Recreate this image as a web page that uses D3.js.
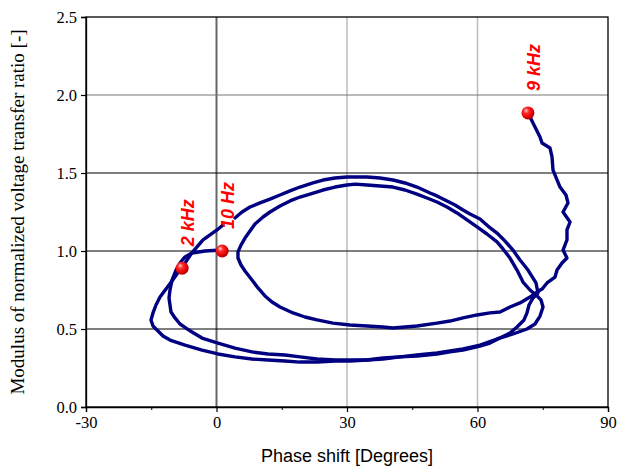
<!DOCTYPE html>
<html>
<head>
<meta charset="utf-8">
<script src="https://cdn.jsdelivr.net/npm/d3@7"></script>
<style>
    body { margin: 0; background: #fff; }
    svg { display: block; }
</style>
</head>
<body>
<svg id="chart" width="617" height="468"></svg>
<script>
// phase shift [deg], modulus [-]
var sweepA = [
    [1.26, 1.006], [-2.64, 1.000], [-5.63, 0.987], [-7.24, 0.962], [-8.39, 0.923], [-9.31, 0.878],
    [-10.23, 0.814], [-10.69, 0.750], [-10.92, 0.699], [-10.69, 0.654], [-10.46, 0.609], [-9.54, 0.571],
    [-8.39, 0.532], [-7.01, 0.506], [-5.63, 0.481], [-3.33, 0.442], [0.34, 0.410], [4.25, 0.378],
    [8.16, 0.353], [11.84, 0.340], [15.75, 0.333], [19.20, 0.321], [23.10, 0.308], [27.24, 0.301],
    [30.69, 0.301], [34.60, 0.301], [38.28, 0.314], [42.18, 0.321], [46.09, 0.327], [50.69, 0.340],
    [53.68, 0.353], [56.67, 0.365], [60.57, 0.391], [62.87, 0.410], [65.17, 0.442], [67.47, 0.474],
    [69.08, 0.513], [70.69, 0.558], [71.38, 0.603], [71.84, 0.654], [72.76, 0.699], [73.91, 0.731],
    [73.45, 0.795], [71.61, 0.878], [69.77, 0.942], [68.16, 1.006], [66.32, 1.064], [64.48, 1.115],
    [62.41, 1.160], [60.57, 1.205], [58.28, 1.237], [56.67, 1.263], [54.83, 1.295], [52.99, 1.321],
    [50.69, 1.353], [49.08, 1.372], [46.09, 1.410], [43.33, 1.436], [40.57, 1.455], [37.59, 1.468],
    [34.60, 1.474], [31.84, 1.474], [30.00, 1.474], [27.24, 1.468], [24.48, 1.455], [22.18, 1.436],
    [19.20, 1.410], [16.90, 1.385], [14.60, 1.359], [12.30, 1.333], [10.00, 1.308], [7.70, 1.282],
    [5.86, 1.250], [4.25, 1.212]
];

var sweepB = [
    [1.49, 1.167], [0.12, 1.135], [-1.49, 1.103], [-3.10, 1.071], [-4.48, 1.026], [-5.86, 0.981],
    [-6.78, 0.942], [-7.93, 0.891], [-9.08, 0.853], [-10.23, 0.808], [-11.61, 0.756], [-12.99, 0.705],
    [-13.91, 0.654], [-14.60, 0.603], [-15.06, 0.558], [-14.60, 0.519], [-13.45, 0.487], [-12.30, 0.455],
    [-10.69, 0.429], [-7.24, 0.397], [-3.33, 0.365], [0.34, 0.340], [4.25, 0.321], [8.16, 0.308],
    [11.84, 0.301], [15.75, 0.295], [19.20, 0.288], [23.10, 0.288], [27.24, 0.295], [30.69, 0.295],
    [34.60, 0.301], [38.28, 0.308], [42.18, 0.321], [46.09, 0.333], [50.69, 0.346], [53.68, 0.359],
    [56.67, 0.372], [60.57, 0.397], [64.48, 0.436], [68.16, 0.468], [71.38, 0.500], [73.22, 0.532],
    [74.37, 0.583], [75.06, 0.641], [74.60, 0.686], [73.68, 0.712],
    [72.07, 0.750], [70.46, 0.801], [69.08, 0.878], [67.47, 0.955], [65.86, 1.013], [64.48, 1.058],
    [62.18, 1.109], [59.89, 1.154], [57.59, 1.199], [55.29, 1.244], [52.99, 1.282], [50.69, 1.314],
    [48.39, 1.340], [46.09, 1.365], [43.33, 1.391], [40.57, 1.410], [37.59, 1.417], [34.60, 1.423],
    [31.84, 1.429], [30.00, 1.423], [27.24, 1.410], [24.48, 1.391], [21.49, 1.365], [19.20, 1.346],
    [16.90, 1.321], [14.60, 1.288], [12.30, 1.250], [10.69, 1.218], [8.85, 1.173], [7.70, 1.128],
    [6.55, 1.083], [5.63, 1.038], [4.94, 0.994], [4.94, 0.955], [5.63, 0.910], [6.55, 0.872],
    [8.16, 0.814], [9.54, 0.763], [11.15, 0.712], [12.76, 0.673], [14.60, 0.641], [17.59, 0.603],
    [20.34, 0.577], [23.10, 0.558], [26.78, 0.538], [30.69, 0.526], [34.60, 0.519], [38.28, 0.513],
    [40.57, 0.506], [43.33, 0.513], [46.09, 0.519], [50.69, 0.538], [53.68, 0.551], [56.67, 0.571],
    [59.89, 0.590], [62.87, 0.603], [65.17, 0.609], [67.47, 0.641], [69.77, 0.667], [72.07, 0.705],
    [73.68, 0.737],
    [74.83, 0.756], [75.98, 0.795], [77.82, 0.833], [78.28, 0.878], [79.43, 0.923], [80.57, 0.955],
    [79.66, 1.006], [80.57, 1.071], [80.57, 1.135], [81.27, 1.186], [79.66, 1.250], [80.80, 1.308],
    [80.34, 1.359], [78.97, 1.410], [77.36, 1.519], [77.13, 1.603], [76.67, 1.660], [74.83, 1.692],
    [74.37, 1.731], [72.76, 1.821], [71.61, 1.885]
];

var markerLabels = ["10 Hz", "2 kHz", "9 kHz"];
var markerPhase = [1.3, -7.9, 71.6];
var markerModulus = [1.0, 0.89, 1.885];

var xTicks = [-30, 0, 30, 60, 90];
var xMinorTicks = [-15, 15, 45, 75];
var yTicks = [0, 0.5, 1.0, 1.5, 2.0, 2.5];

var margin = {top: 17, right: 9, bottom: 61, left: 86},
    width = 617 - margin.left - margin.right,
    height = 468 - margin.top - margin.bottom;

var svg = d3.select("#chart");

var defs = svg.append("defs");
var grad = defs.append("radialGradient")
    .attr("id", "ball")
    .attr("cx", "40%").attr("cy", "40%").attr("r", "60%")
    .attr("fx", "35%").attr("fy", "30%");
grad.append("stop").attr("offset", "0%").attr("stop-color", "#ffd0d0");
grad.append("stop").attr("offset", "35%").attr("stop-color", "#ff2a2a");
grad.append("stop").attr("offset", "80%").attr("stop-color", "#e00000");
grad.append("stop").attr("offset", "100%").attr("stop-color", "#b00000");

var g = svg.append("g")
    .attr("transform", "translate(" + margin.left + "," + margin.top + ")");

var x = d3.scaleLinear().domain([-30, 90]).range([0, width]);
var y = d3.scaleLinear().domain([0, 2.5]).range([height, 0]);

// grid
g.selectAll(".vgrid")
    .data([0, 30, 60])
    .enter().append("line")
    .attr("x1", d => x(d)).attr("x2", d => x(d))
    .attr("y1", 0).attr("y2", height)
    .attr("stroke", d => d === 0 ? "#666" : "#bbb")
    .attr("stroke-width", d => d === 0 ? 2 : 1.5);

g.selectAll(".hgrid")
    .data([0.5, 1.0, 1.5, 2.0])
    .enter().append("line")
    .attr("x1", 0).attr("x2", width)
    .attr("y1", d => y(d)).attr("y2", d => y(d))
    .attr("stroke", d => d === 2.0 ? "#777" : "#000")
    .attr("stroke-width", 1.1);

// frame
g.append("rect")
    .attr("width", width).attr("height", height)
    .attr("fill", "none").attr("stroke", "#000").attr("stroke-width", 1.3);

var xAxis = g.append("g")
    .attr("transform", "translate(0," + height + ")")
    .call(d3.axisBottom(x).tickValues(xTicks).tickSize(5).tickPadding(4).tickFormat(d => String(d)));
g.append("g")
    .attr("transform", "translate(0," + height + ")")
    .call(d3.axisBottom(x).tickValues(xMinorTicks).tickSize(3).tickFormat(""))
    .select(".domain").remove();

var yAxis = g.append("g")
    .call(d3.axisLeft(y).tickValues(yTicks).tickSize(5).tickPadding(4).tickFormat(d3.format(".1f")));

[xAxis, yAxis].forEach(function(a) {
    a.select(".domain").attr("stroke-width", 1.3);
    a.selectAll(".tick line").attr("stroke-width", 1.2);
    a.selectAll("text")
        .attr("font-family", "'Liberation Serif', serif")
        .attr("font-size", 16.5)
        .attr("fill", "#000");
});

// curves
var line = d3.line()
    .x(d => x(d[0]))
    .y(d => y(d[1]));

g.selectAll(".sweep")
    .data([sweepA, sweepB])
    .enter().append("path")
    .attr("d", line)
    .attr("fill", "none")
    .attr("stroke", "#000080")
    .attr("stroke-width", 3.4)
    .attr("stroke-linejoin", "round")
    .attr("stroke-linecap", "round");

// frequency markers
var markers = markerLabels.map(function(l, i) {
    return {label: l, phase: markerPhase[i], modulus: markerModulus[i]};
});

g.selectAll(".ball")
    .data(markers)
    .enter().append("circle")
    .attr("cx", d => x(d.phase))
    .attr("cy", d => y(d.modulus))
    .attr("r", 6.5)
    .attr("fill", "url(#ball)");

g.selectAll(".mlabel")
    .data(markers)
    .enter().append("text")
    .attr("transform", d => "translate(" + (x(d.phase) + 12) + "," + (y(d.modulus) - 22) + ") rotate(-90)")
    .attr("font-family", "'Liberation Sans', Arial, sans-serif")
    .attr("font-size", 18)
    .attr("font-weight", "bold")
    .attr("font-style", "italic")
    .attr("fill", "#ff0000")
    .text(d => d.label);

// axis titles
svg.append("text")
    .attr("x", margin.left + width / 2)
    .attr("y", 462)
    .attr("text-anchor", "middle")
    .attr("font-family", "'Liberation Sans', Arial, sans-serif")
    .attr("font-size", 18)
    .text("Phase shift [Degrees]");

svg.append("text")
    .attr("transform", "translate(24," + (margin.top + height / 2) + ") rotate(-90)")
    .attr("text-anchor", "middle")
    .attr("font-family", "'Liberation Serif', serif")
    .attr("font-size", 19)
    .text("Modulus of normalized voltage transfer ratio [-]");
</script>
</body>
</html>
